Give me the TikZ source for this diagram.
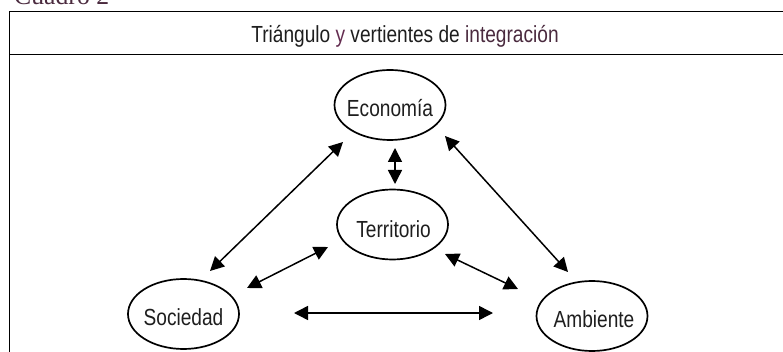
\documentclass[tikz,border=0pt]{standalone}
\usepackage{fontspec}
\setmainfont{Liberation Serif}
\newfontfamily\nar[FakeStretch=0.82]{Liberation Sans}
\usetikzlibrary{arrows.meta,shapes.geometric}
\definecolor{ink}{HTML}{1E1E1E}
\definecolor{plum}{HTML}{642C50}
\definecolor{plumdark}{HTML}{4A2A3E}
\begin{document}
\begin{tikzpicture}[x=1pt,y=-1pt,
  ell/.style={draw=black, line width=1.7pt, ellipse, minimum width=111pt, minimum height=70pt, inner sep=0pt},
  lab/.style={font=\nar\fontsize{23.3}{26}\selectfont, text=ink, anchor=base, inner sep=0pt},
  dbl/.style={line width=1.5pt, {Triangle[length=14pt,width=14pt]}-{Triangle[length=14pt,width=14pt]}},
  frame/.style={line width=1.5pt, draw=black}]
\useasboundingbox (0,0) rectangle (783,352);
\clip (0,0) rectangle (783,352);
% caption
\node[anchor=base west, inner sep=0pt, text=plumdark, font=\fontsize{25.7}{28}\selectfont] (cap) at (14,5) {Cuadro 2};
% frame
\draw[frame] (9.5,11.7) rectangle (830,420);
\draw[frame] (9.5,54.5) -- (830,54.5);
\node[lab] (title) at (405,43) {Triángulo {\color{plum}y} vertientes de {\color{plumdark}integración}};
% ellipses
\node[ell] (eco) at (390,105) {};
\node[ell] (ter) at (392.5,224.5) {};
\node[ell] (soc) at (183.5,314) {};
\node[ell] (amb) at (592,316) {};
\node[lab] (ecot) at ([yshift=-11.5pt]eco.center) {Economía};
\node[lab] (tert) at ([yshift=-13.5pt,xshift=1pt]ter.center) {Territorio};
\node[lab] (soct) at ([yshift=-11pt]soc.center) {Sociedad};
\node[lab] (ambt) at ([yshift=-11pt,xshift=2pt]amb.center) {Ambiente};
% arrow end points
\coordinate (v1) at (395,148);
\coordinate (v2) at (395,184);
\coordinate (l1) at (343,142);
\coordinate (l2) at (210,271);
\coordinate (r1) at (445,136);
\coordinate (r2) at (568,272);
\coordinate (s1) at (328,247);
\coordinate (s2) at (247,288);
\coordinate (a1) at (445,254);
\coordinate (a2) at (518,289);
\coordinate (h1) at (294,313);
\coordinate (h2) at (493,313);
\draw[dbl] (v1) -- (v2);
\draw[dbl] (l1) -- (l2);
\draw[dbl] (r1) -- (r2);
\draw[dbl] (s1) -- (s2);
\draw[dbl] (a1) -- (a2);
\draw[dbl] (h1) -- (h2);
\end{tikzpicture}
\end{document}
